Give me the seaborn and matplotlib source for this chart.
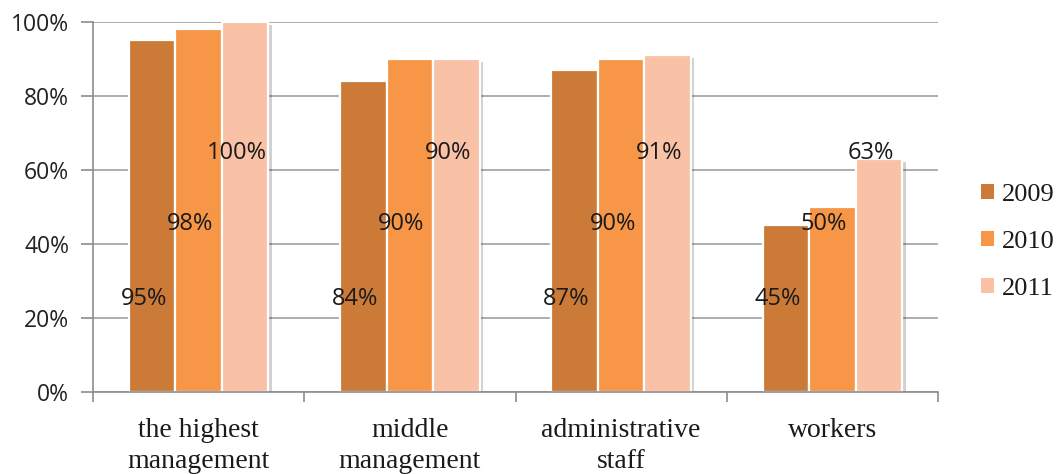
import matplotlib
matplotlib.use("Agg")
import matplotlib.pyplot as plt
import matplotlib.patheffects as pe
from matplotlib.patches import Patch
import seaborn as sns
import pandas as pd

categories = ["the highest\nmanagement", "middle\nmanagement", "administrative\nstaff", "workers"]
years = ["2009", "2010", "2011"]
values_2009 = [95, 84, 87, 45]
values_2010 = [98, 90, 90, 50]
values_2011 = [100, 90, 91, 63]
label_heights = [25, 45.3, 64.5]  # where the data labels sit, per series
colors = ["#CC7A38", "#F69646", "#F9C1A6"]
yticks = [0, 20, 40, 60, 80, 100]

series = [values_2009, values_2010, values_2011]
rows = []
for y, vals in zip(years, series):
    for c, v in zip(categories, vals):
        rows.append({"category": c, "year": y, "value": v})
df = pd.DataFrame(rows)

sns.set_theme(style="white")
plt.rcParams["font.family"] = ["DejaVu Sans"]

fig = plt.figure(figsize=(10.59, 4.74), dpi=100)
ax = fig.add_axes([0.0878, 0.173, 0.798, 0.7806])

sns.barplot(data=df, x="category", y="value", hue="year", order=categories,
            hue_order=years, palette=colors, width=0.66, gap=0,
            edgecolor="white", linewidth=1.6, saturation=1, ax=ax, errorbar=None)
ax.get_legend().remove()

for p in ax.patches:
    p.set_path_effects([pe.SimplePatchShadow(offset=(2.5, -2), alpha=0.18, shadow_rgbFace="black"),
                        pe.Normal()])

# data labels
bw = 0.22
for si, vals in enumerate(series):
    for ci, v in enumerate(vals):
        xc = ci + (si - 1) * bw - 0.04
        ax.text(xc, label_heights[si], f"{v}%", ha="center", va="center",
                fontsize=17, color="#1a1a1a", family="Open Sans", zorder=5)

ax.set_ylim(0, 100)
ax.set_xlim(-0.5, 3.5)
ax.set_yticks(yticks)
ax.set_yticklabels([f"{t}%" for t in yticks], family="Open Sans", fontsize=16.5, color="#222222")
ax.set_xticks(range(len(categories)))
ax.set_xticklabels(categories, family="Liberation Serif", fontsize=20, color="#1a1a1a",
                   linespacing=1.32)
ax.set_xticks([-0.5, 0.5, 1.5, 2.5, 3.5], minor=True)
ax.tick_params(axis="x", which="major", length=0, pad=19)
ax.tick_params(axis="x", which="minor", length=7, width=1.2, color="#8c8c8c", direction="out", bottom=True)
ax.tick_params(axis="y", which="major", length=9, width=1.2, color="#8c8c8c", direction="out", left=True, pad=8)
ax.set_xlabel("")
ax.set_ylabel("")

ax.yaxis.grid(True, color="#a0a0a0", linewidth=1.2)
ax.set_axisbelow(True)
for s in ["top", "right"]:
    ax.spines[s].set_visible(False)
for s in ["left", "bottom"]:
    ax.spines[s].set_color("#8c8c8c")
    ax.spines[s].set_linewidth(1.2)

handles = [Patch(facecolor=c, edgecolor="none", label=y) for c, y in zip(colors, years)]
fig.legend(handles=handles, loc="center left", bbox_to_anchor=(0.926, 0.489), frameon=False,
           prop={"family": "Liberation Serif", "size": 19}, handlelength=0.5, handleheight=0.5,
           handletextpad=0.3, labelspacing=0.95, labelcolor="#1a1a1a",
           borderpad=0, borderaxespad=0)

fig.savefig("out.png", dpi=100)
